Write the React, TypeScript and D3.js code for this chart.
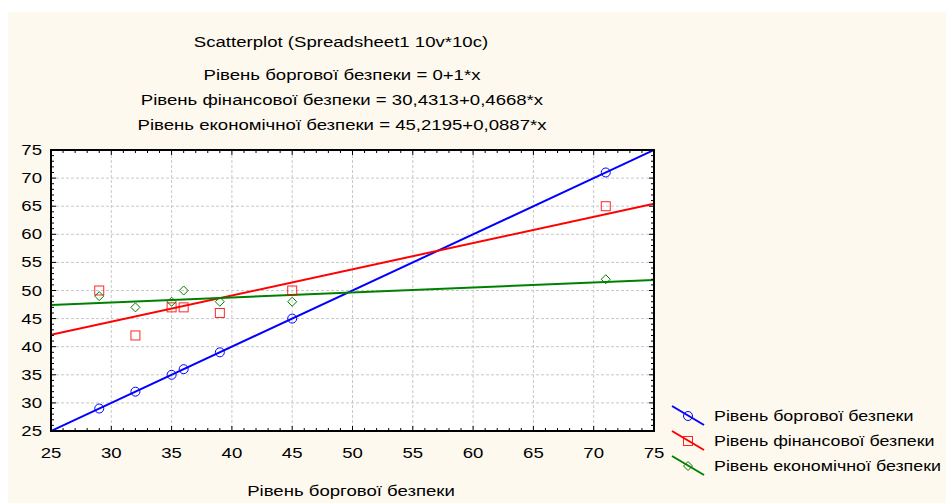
import React from "react";
import * as d3 from "d3";

// Observations: debt security (x) against each security level
const debtX = [29, 32, 35, 36, 39, 45, 71];
const debtY = [29, 32, 35, 36, 39, 45, 71];
const financeY = [50, 42, 47, 47, 46, 50, 65];
const economyY = [49, 47, 48, 50, 48, 48, 52];

// Fitted lines: intercept, slope
const fitDebt = [0, 1];
const fitFinance = [30.4313, 0.4668];
const fitEconomy = [45.2195, 0.0887];

const seriesNames = [
  "Рівень боргової безпеки",
  "Рівень фінансової безпеки",
  "Рівень економічної безпеки",
];
const titleText = "Scatterplot (Spreadsheet1 10v*10c)";
const equationLines = [
  "Рівень боргової безпеки = 0+1*x",
  "Рівень фінансової безпеки = 30,4313+0,4668*x",
  "Рівень економічної безпеки = 45,2195+0,0887*x",
];
const xTicks = [25, 30, 35, 40, 45, 50, 55, 60, 65, 70, 75];
const yTicks = [25, 30, 35, 40, 45, 50, 55, 60, 65, 70, 75];
const xAxisTitle = "Рівень боргової безпеки";

const W = 946;
const H = 503;
const FONT = "'Liberation Sans', Arial, sans-serif";
const colors = ["#0000ff", "#ff0000", "#008000"];
const SX = 1.24; // horizontal stretch of the lettering

function T({ x, y, anchor = "start", sx = SX, children }: { x: number; y: number; anchor?: string; sx?: number; children: React.ReactNode }) {
  return (
    <text
      transform={`translate(${x},${y}) scale(${sx},1)`}
      textAnchor={anchor}
      fontSize={15}
      fill="#000"
    >
      {children}
    </text>
  );
}

export default function App() {
  const left = 51, right = 654, top = 150, bottom = 431;
  const x = d3.scaleLinear().domain([25, 75]).range([left, right]);
  const y = d3.scaleLinear().domain([25, 75]).range([bottom, top]);

  const series = [
    { ys: debtY, fit: fitDebt },
    { ys: financeY, fit: fitFinance },
    { ys: economyY, fit: fitEconomy },
  ];

  const minor = d3.range(25, 76, 1);

  const marker = (i: number, cx: number, cy: number, key: string) => {
    const c = colors[i];
    if (i === 0) return <circle key={key} cx={cx} cy={cy} r={4.5} fill="none" stroke={c} strokeWidth={1} />;
    if (i === 1) return <rect key={key} x={cx - 4.5} y={cy - 4.5} width={9} height={9} fill="none" stroke={c} strokeWidth={1} opacity={0.85} />;
    return (
      <path
        key={key}
        d={`M${cx},${cy - 4.5}L${cx + 4.5},${cy}L${cx},${cy + 4.5}L${cx - 4.5},${cy}Z`}
        fill="none"
        stroke={c}
        strokeWidth={1}
      />
    );
  };

  return (
    <svg
      width={W}
      height={H}
      style={{ position: "absolute", left: 0, top: 0, display: "block" }}
      fontFamily={FONT}
    >
      <rect x={0} y={0} width={W} height={H} fill="#ffffff" />
      <rect x={8} y={12} width={W - 8} height={H - 12} fill="#fdf9ee" />

      {/* titles */}
      <T x={341} y={47} anchor="middle">{titleText}</T>
      {equationLines.map((t, i) => (
        <T key={t} x={342} y={80 + i * 25} anchor="middle">{t}</T>
      ))}

      {/* plot area */}
      <rect x={left} y={top} width={right - left} height={bottom - top} fill="#ffffff" />

      {/* grid */}
      <g stroke="#c8c8c8" strokeWidth={1} strokeDasharray="3,2">
        {xTicks.slice(1, -1).map((t) => (
          <line key={"gx" + t} x1={x(t)} x2={x(t)} y1={top} y2={bottom} />
        ))}
        {yTicks.slice(1, -1).map((t) => (
          <line key={"gy" + t} x1={left} x2={right} y1={y(t)} y2={y(t)} />
        ))}
      </g>

      {/* fitted lines */}
      <svg x={left} y={top} width={right - left} height={bottom - top} overflow="hidden">
        <g transform={`translate(${-left},${-top})`}>
          {series.map((s, i) => {
            const [a, b] = s.fit;
            const d = d3
              .line<number>()
              .x((v) => x(v))
              .y((v) => y(a + b * v))([25, 75]);
            return <path key={"fit" + i} d={d || ""} stroke={colors[i]} strokeWidth={2} fill="none" />;
          })}
        </g>
      </svg>

      {/* points */}
      {series.map((s, i) => (
        <g key={"pts" + i}>
          {debtX.map((xv, j) => marker(i, x(xv), y(s.ys[j]), `m${i}-${j}`))}
        </g>
      ))}

      {/* ticks */}
      <g stroke="#000" strokeWidth={1}>
        {minor.map((t) => {
          const len = t % 5 === 0 ? 5 : 3;
          return (
            <g key={"t" + t}>
              <line x1={x(t)} x2={x(t)} y1={bottom} y2={bottom - len} />
              <line x1={x(t)} x2={x(t)} y1={top} y2={top + len} />
              <line x1={left} x2={left + len} y1={y(t)} y2={y(t)} />
              <line x1={right} x2={right - len} y1={y(t)} y2={y(t)} />
            </g>
          );
        })}
      </g>

      {/* frame */}
      <rect x={left} y={top} width={right - left} height={bottom - top} fill="none" stroke="#000" strokeWidth={2} />

      {/* tick labels */}
      {xTicks.map((t) => (
        <T key={"xl" + t} x={x(t)} y={458} anchor="middle">{t}</T>
      ))}
      {yTicks.map((t) => (
        <T key={"yl" + t} x={42} y={y(t) + 5} anchor="end">{t}</T>
      ))}

      <T x={351} y={496} anchor="middle">{xAxisTitle}</T>

      {/* legend */}
      {seriesNames.map((name, i) => {
        const cy = 416 + i * 25;
        return (
          <g key={"lg" + i}>
            <line x1={672} y1={cy - 10} x2={704} y2={cy + 9} stroke={colors[i]} strokeWidth={2} />
            {marker(i, 688, cy, "lm" + i)}
            <T x={714} y={cy + 5} sx={1.19}>{name}</T>
          </g>
        );
      })}
    </svg>
  );
}
